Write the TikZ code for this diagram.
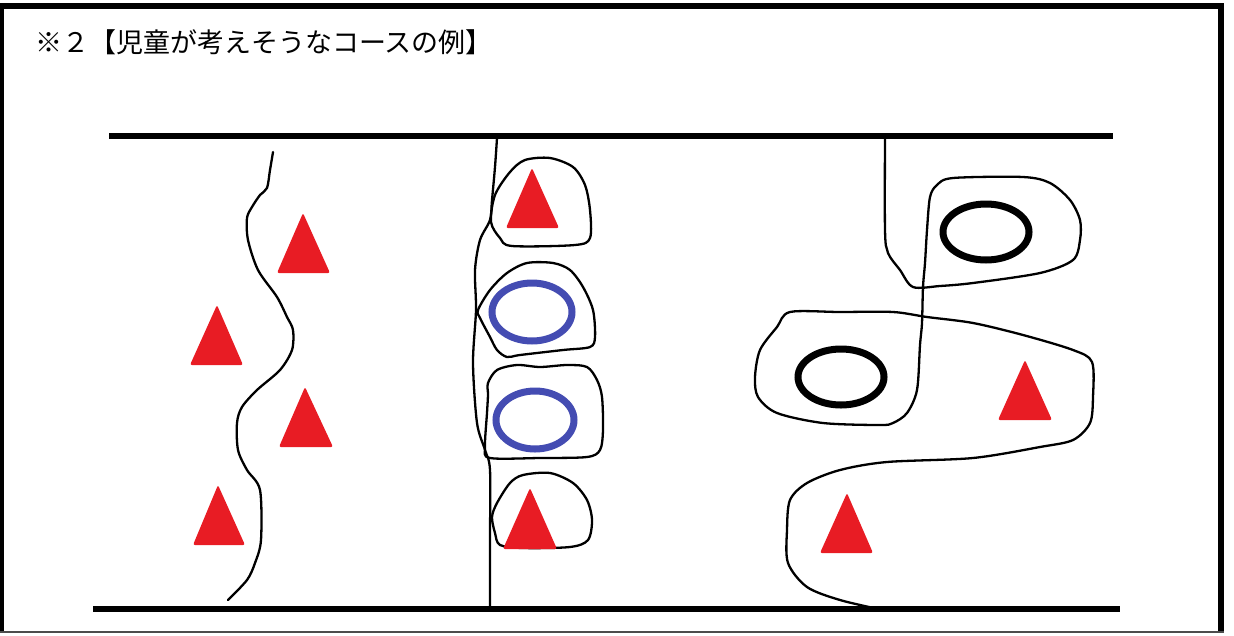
\documentclass[tikz,border=0pt]{standalone}
\usepackage{fontspec}
\newfontfamily\jpfont{Noto Sans CJK JP}
\definecolor{conered}{RGB}{232,28,36}
\definecolor{ringblue}{RGB}{68,76,178}
\begin{document}
\begin{tikzpicture}[x=1pt,y=-1pt,
  course/.style={line width=2.3pt, line join=round, line cap=round},
  road/.style={line width=6pt},
  cone/.style={fill=conered, rounded corners=2pt},
  bluering/.style={draw=ringblue, line width=7pt},
  blackring/.style={draw=black, line width=7pt},
  lbl/.style={anchor=west, inner sep=0pt, font=\jpfont\fontsize{27pt}{30pt}\selectfont}]
\useasboundingbox (0,0) rectangle (1234,635);
% frame
\fill[black] (0,3) rectangle (4,633);
\fill[black] (0,3) rectangle (1224,9);
\fill[black] (1218,3) rectangle (1224,633);
\draw[line width=1.5pt, black!70] (0,632) -- (1224,632);
% title
\node[lbl] (title) at (35,42) {※２【児童が考えそうなコースの例】};
% roads
\coordinate (rt1) at (109,136); \coordinate (rt2) at (1113,136);
\coordinate (rb1) at (93,609); \coordinate (rb2) at (1120,609);
\draw[road] (rt1) -- (rt2);
\draw[road] (rb1) -- (rb2);
% left course
\draw[course] plot[smooth, tension=0.5] coordinates {(273,152) (270,170) (267,188) (260,195) (252,207) (247,218) (248,240) (258,270) (277,297) (287,317) (293,330) (292,350) (280,370) (257,390) (242,407) (237,423) (238,450) (247,470) (260,490) (261,540) (255,563) (247,580) (228,600)};
% left cones
\fill[cone] (303,213) -- (330,273) -- (277,273) -- cycle;
\fill[cone] (217,305) -- (243,365) -- (190,365) -- cycle;
\fill[cone] (305,387) -- (333,447) -- (279,447) -- cycle;
\fill[cone] (218,485) -- (245,545) -- (193,545) -- cycle;
% middle course
\draw[course] plot[smooth, tension=0.5] coordinates {(497,138) (495,167) (492,200) (490,220) (480,240) (475,270) (476,310) (473,363) (477,423) (485,450) (490,470) (490,540) (490,607)};
\draw[course] plot[smooth cycle, tension=0.5] coordinates {(491,222) (495,195) (510,172) (525,160) (550,158) (573,167) (585,185) (590,210) (590,238) (575,245) (512,246) (500,238)};
\draw[course] plot[smooth cycle, tension=0.5] coordinates {(478,310) (490,290) (507,273) (527,263) (553,263) (570,270) (583,287) (593,310) (595,337) (590,347) (563,350) (520,355) (507,357) (497,350) (490,337) (480,318)};
\draw[course] plot[smooth cycle, tension=0.5] coordinates {(488,383) (497,370) (517,365) (540,367) (567,365) (587,367) (597,380) (602,397) (603,430) (600,450) (587,457) (540,458) (490,458) (485,447) (487,413) (488,395)};
\draw[course] plot[smooth cycle, tension=0.5] coordinates {(492,517) (497,503) (510,483) (523,475) (550,473) (573,483) (587,500) (592,520) (588,540) (570,547) (523,548) (500,545) (495,533)};
\fill[cone] (532,168) -- (559,228) -- (506,228) -- cycle;
\fill[cone] (530,488) -- (557,549) -- (503,549) -- cycle;
\draw[bluering] (532,312) ellipse (40pt and 29pt);
\draw[bluering] (535,420) ellipse (39pt and 29pt);
% right course
\draw[course] plot[smooth, tension=0.5] coordinates {(885,137) (885,230) (888,253) (900,270) (913,287) (940,286) (973,283) (1040,273) (1073,260) (1080,240) (1080,220) (1070,200) (1050,183) (1023,177) (953,178) (937,185) (930,197) (927,230) (925,263) (923,287) (922,323) (920,345) (917,390) (907,413) (893,423) (880,425) (823,423) (777,413) (758,397) (755,377) (760,350) (777,327) (790,312) (840,312) (893,312) (927,317) (973,323) (1023,335) (1073,350) (1092,362) (1093,397) (1090,423) (1073,440) (1040,447) (973,458) (887,462) (840,470) (807,483) (790,500) (787,530) (788,563) (807,587) (840,600) (883,610)};
\draw[blackring] (986,232) ellipse (43pt and 28pt);
\draw[blackring] (841,377) ellipse (43pt and 28pt);
\fill[cone] (1025,360) -- (1052,420) -- (998,420) -- cycle;
\fill[cone] (847,493) -- (873,553) -- (820,553) -- cycle;
\end{tikzpicture}
\end{document}
